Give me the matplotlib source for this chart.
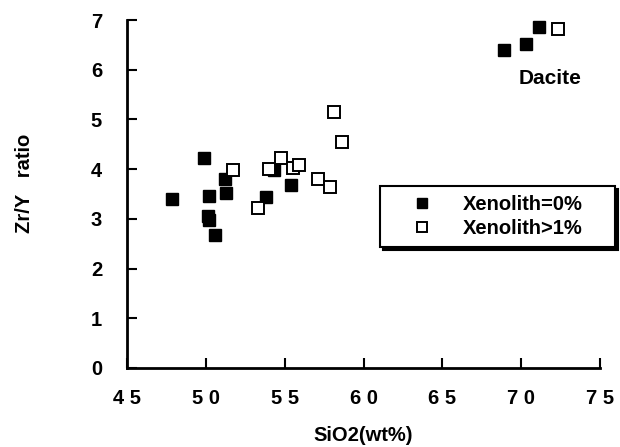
import matplotlib
matplotlib.use("Agg")
import matplotlib.pyplot as plt

plt.rcParams['font.family'] = ['Liberation Sans', 'DejaVu Sans']
plt.rcParams['font.weight'] = 'bold'

# Xenolith = 0% (filled squares)
x0 = [47.84, 49.85, 50.17, 50.1, 50.2, 50.55, 51.23, 51.27, 53.83, 54.3, 55.38, 68.9, 70.3, 71.13]
y0 = [3.40, 4.23, 3.45, 3.06, 2.98, 2.67, 3.81, 3.53, 3.44, 3.99, 3.69, 6.40, 6.51, 6.87]
# Xenolith > 1% (open squares)
x1 = [51.73, 53.3, 54.02, 54.76, 55.55, 55.88, 57.1, 57.86, 58.6, 58.1, 72.34]
y1 = [3.99, 3.22, 4.01, 4.23, 4.03, 4.09, 3.81, 3.65, 4.55, 5.16, 6.83]

xticks = [45, 50, 55, 60, 65, 70, 75]
xticklabels = ["4 5", "5 0", "5 5", "6 0", "6 5", "7 0", "7 5"]
yticks = [0, 1, 2, 3, 4, 5, 6, 7]

FS = 14.5

fig = plt.figure(figsize=(6.2, 4.47), dpi=100)
ax = fig.add_axes([0.205, 0.177, 0.763, 0.778])

ax.plot(x0, y0, linestyle='none', marker='s', markersize=8.6, color='black',
        markeredgecolor='black', label='Xenolith=0%')
ax.plot(x1, y1, linestyle='none', marker='s', markersize=8.2, markerfacecolor='white',
        markeredgecolor='black', markeredgewidth=1.4, label='Xenolith>1%')

ax.set_xlim(45, 75)
ax.set_ylim(0, 7)
ax.set_xticks(xticks)
ax.set_xticklabels(xticklabels)
ax.set_yticks(yticks)

for s in ['top', 'right']:
    ax.spines[s].set_visible(False)
for s in ['left', 'bottom']:
    ax.spines[s].set_linewidth(2)

ax.tick_params(axis='both', direction='in', length=7, width=1.5, labelsize=FS)
ax.tick_params(axis='x', pad=15)
ax.tick_params(axis='y', pad=18)
for lab in ax.get_xticklabels() + ax.get_yticklabels():
    lab.set_fontweight('bold')

ax.set_xlabel('SiO2(wt%)', fontsize=FS, fontweight='bold', labelpad=13)
ax.set_ylabel('Zr/Y   ratio', fontsize=FS, fontweight='bold')
ax.yaxis.set_label_coords(-0.197, 0.53)

ax.text(71.8, 5.83, 'Dacite', fontsize=15, fontweight='bold', ha='center', va='center')

x0f, y0f, x1f, y1f = 380/620, 1 - 247/447, 615/620, 1 - 185/447
leg = ax.legend(loc='lower left', bbox_to_anchor=(x0f, y0f, x1f - x0f, y1f - y0f),
                bbox_transform=fig.transFigure, mode='expand', frameon=True, fancybox=False,
                shadow={'color': 'black', 'alpha': 1}, edgecolor='black',
                prop={'size': FS, 'weight': 'bold'}, borderpad=0.45,
                handletextpad=0.35, handlelength=3.3, labelspacing=0.25,
                borderaxespad=0, markerscale=0.85)
leg.get_frame().set_linewidth(1.5)

fig.savefig('out.png', dpi=100)
